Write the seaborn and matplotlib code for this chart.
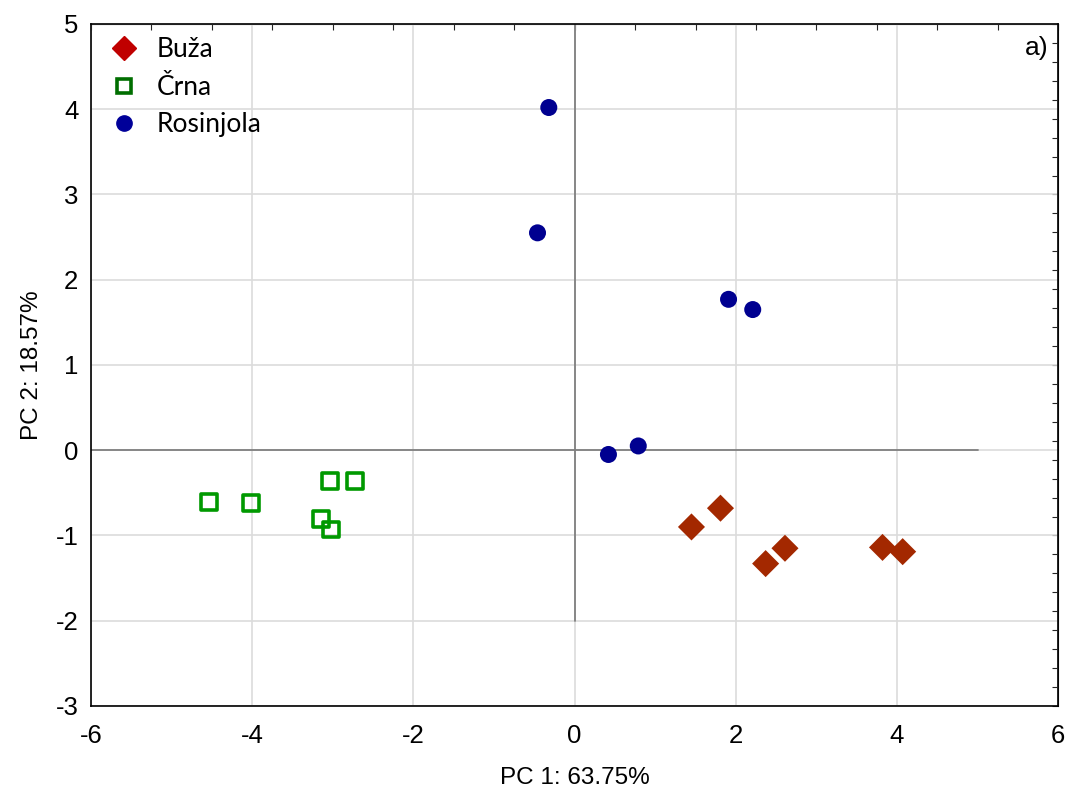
import numpy as np
import pandas as pd
import matplotlib
matplotlib.use("Agg")
import matplotlib.pyplot as plt
from matplotlib.lines import Line2D
from matplotlib.ticker import MultipleLocator
import seaborn as sns

# scores
buza_x = [1.45, 1.81, 2.37, 2.61, 3.82, 4.07]
buza_y = [-0.90, -0.68, -1.33, -1.15, -1.14, -1.19]
crna_x = [-4.54, -4.01, -3.03, -2.72, -3.15, -3.02]
crna_y = [-0.61, -0.62, -0.36, -0.36, -0.81, -0.93]
rosi_x = [-0.32, -0.46, 1.91, 2.21, 0.42, 0.79]
rosi_y = [4.02, 2.55, 1.77, 1.65, -0.05, 0.05]
groups = ['Buža', 'Črna', 'Rosinjola']

df = pd.DataFrame({
    'PC1': buza_x + crna_x + rosi_x,
    'PC2': buza_y + crna_y + rosi_y,
    'Variety': [groups[0]] * len(buza_x) + [groups[1]] * len(crna_x) + [groups[2]] * len(rosi_x),
})

sns.set_style('white')
plt.rcParams['font.family'] = ['Liberation Sans', 'DejaVu Sans']
plt.rcParams['axes.unicode_minus'] = False
plt.rcParams['text.color'] = 'black'
plt.rcParams['axes.labelcolor'] = 'black'

fig = plt.figure(figsize=(10.7, 7.91), dpi=100)
ax = fig.add_axes([0.085, 0.1075, 0.904, 0.8622])

# reference lines through origin
ax.plot([0, 0], [-2, 5], color='#808080', lw=1.3, zorder=1)
ax.plot([-6, 5], [0, 0], color='#808080', lw=1.3, zorder=1)

sns.scatterplot(data=df[df.Variety == 'Buža'], x='PC1', y='PC2', marker='D', s=190,
                color='#A32800', edgecolor='none', ax=ax, zorder=3, legend=False)
sns.scatterplot(data=df[df.Variety == 'Rosinjola'], x='PC1', y='PC2', marker='o', s=150,
                color='#000090', edgecolor='none', ax=ax, zorder=3, legend=False)
n_before = len(ax.collections)
sns.scatterplot(data=df[df.Variety == 'Črna'], x='PC1', y='PC2', marker='s', s=130,
                color='#009900', ax=ax, zorder=3, legend=False)
sq = ax.collections[n_before]
sq.set_facecolor('none')
sq.set_edgecolor('#009900')
sq.set_linewidth(2.6)

ax.set_xlim(-6, 6)
ax.set_ylim(-3, 5)
ax.xaxis.set_major_locator(MultipleLocator(2))
ax.xaxis.set_minor_locator(MultipleLocator(1))
ax.yaxis.set_major_locator(MultipleLocator(1))
ax.yaxis.set_minor_locator(MultipleLocator(0.25))
ax.grid(True, which='major', color='#DCDCDC', lw=1.2, zorder=0)
ax.set_axisbelow(True)
ax.tick_params(which='both', direction='in', length=4, width=1, colors='black',
               labelsize=18.5, top=False, right=False)
ax.tick_params(axis='x', pad=13)
ax.tick_params(axis='y', pad=9)
for sp in ax.spines.values():
    sp.set_color('black')
    sp.set_linewidth(1.2)

# independent tick marks on the top and right frame
top = ax.secondary_xaxis('top')
top.set_xticks(np.linspace(-6, 6, 17))
top.tick_params(direction='in', length=4, labeltop=False)
top.set_xticklabels([])
right = ax.secondary_yaxis('right')
right.set_yticks(np.linspace(-3, 5, 37))
right.tick_params(direction='in', length=4, labelright=False)
right.set_yticklabels([])

ax.set_xlabel('PC 1: 63.75%', fontsize=17.5, labelpad=14)
ax.set_ylabel('PC 2: 18.57%', fontsize=17.5, labelpad=9)

ax.text(0.99, 0.965, 'a)', transform=ax.transAxes, ha='right', va='center', fontsize=19)

handles = [
    Line2D([], [], marker='D', ls='none', color='#C00000', markersize=12),
    Line2D([], [], marker='s', ls='none', markerfacecolor='none', markeredgecolor='#006E00',
           markeredgewidth=2.6, markersize=10),
    Line2D([], [], marker='o', ls='none', color='#000099', markersize=11),
]
leg = ax.legend(handles, groups, loc='upper left', frameon=False,
                prop={'family': 'Lato', 'size': 19}, handletextpad=0.5,
                borderaxespad=0.1, labelspacing=0.48, handlelength=1.5)

fig.savefig('out.png', dpi=100)
